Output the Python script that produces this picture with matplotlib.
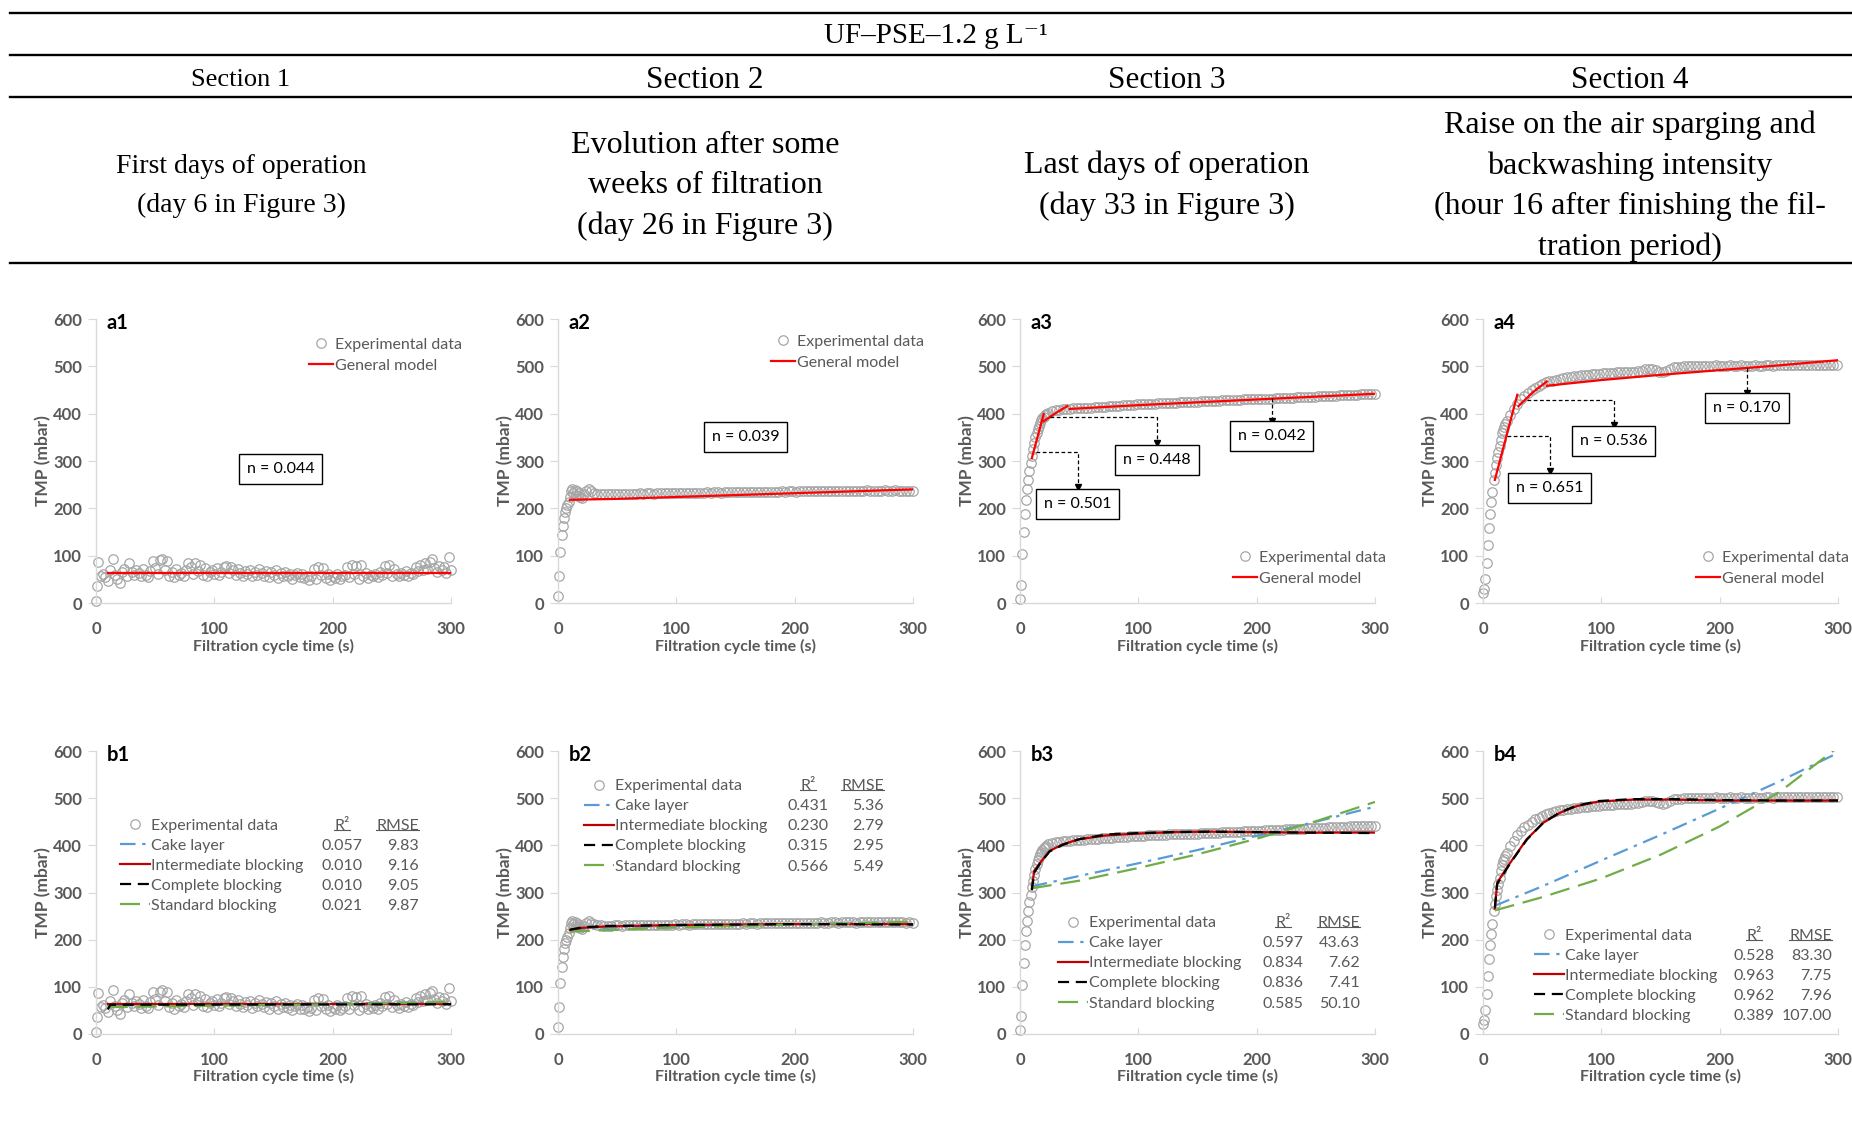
import numpy as np
import matplotlib
matplotlib.use('Agg')
import matplotlib.pyplot as plt
from matplotlib.lines import Line2D

W, H = 1852, 1124

# ---- experimental TMP data (s, mbar) ----
t1 = [0, 1] + list(range(2, 301, 2))
p1 = [4, 35,
      86, 58, 62, 55, 46, 70, 93, 60, 50, 42,
      65, 72, 58, 84, 66, 60, 70, 64, 56, 72,
      60, 55, 68, 88, 74, 62, 90, 93, 70, 89,
      58, 66, 54, 72, 60, 64, 57, 70, 84, 76,
      62, 84, 68, 80, 60, 74, 58, 66, 70, 62,
      74, 60, 66, 76, 78, 64, 76, 70, 60, 72,
      64, 58, 68, 62, 70, 56, 66, 60, 72, 64,
      58, 68, 54, 66, 60, 70, 52, 64, 58, 66,
      56, 62, 50, 60, 64, 54, 62, 52, 58, 48,
      56, 72, 50, 76, 60, 74, 52, 62, 48, 58,
      52, 62, 50, 56, 60, 76, 54, 80, 62, 78,
      50, 80, 58, 64, 52, 60, 56, 62, 54, 66,
      60, 78, 64, 80, 58, 72, 62, 56, 64, 60,
      68, 58, 64, 62, 76, 68, 80, 70, 84, 72,
      86, 92, 74, 66, 78, 70, 76, 64, 98, 70]

t2 = list(range(0, 21)) + [22, 24, 26, 28, 30] + list(range(33, 301, 3))
p2 = [15, 57, 108, 143, 163, 180, 193, 200, 206, 214, 224, 236, 240, 233, 238,
      228, 236, 226, 232, 224, 222, 230, 236, 240, 236, 233,
      231, 231, 230, 230, 230, 231, 231, 230, 231, 231,
      231, 231, 232, 231, 232, 232, 231, 232, 232, 232,
      232, 232, 233, 232, 233, 233, 232, 233, 233, 233,
      233, 234, 233, 234, 234, 233, 234, 234, 234, 234,
      234, 235, 234, 235, 235, 234, 235, 235, 235, 235,
      235, 235, 236, 235, 236, 236, 235, 236, 236, 236,
      236, 236, 236, 237, 236, 236, 237, 237, 236, 237,
      237, 237, 237, 236, 237, 237, 238, 237, 237, 237,
      237, 238, 237, 237, 238, 237, 237, 236, 237, 236]

t3 = list(range(0, 23)) + list(range(24, 301, 3))
p3 = [8, 39, 104, 151, 189, 218, 240, 260, 279, 295, 311, 325, 338, 350, 360,
      368, 375, 381, 386, 390, 394, 397, 399,
      402, 405, 407, 408, 409, 410, 410, 411, 411, 412,
      412, 413, 413, 414, 414, 415, 415, 416, 416, 417,
      417, 418, 418, 419, 419, 420, 420, 420, 421, 421,
      421, 422, 422, 422, 423, 423, 423, 424, 424, 424,
      425, 425, 425, 426, 426, 426, 427, 427, 427, 428,
      428, 428, 429, 429, 429, 430, 430, 430, 431, 431,
      431, 432, 432, 432, 433, 433, 433, 434, 434, 434,
      435, 435, 435, 436, 436, 436, 437, 437, 437, 438,
      438, 438, 439, 439, 439, 440, 440, 440, 441, 441,
      441, 442, 442]

t4 = list(range(0, 21)) + list(range(23, 301, 3))
p4 = [22, 30, 50, 85, 122, 158, 188, 213, 234, 260, 275, 292, 306, 318, 331,
      345, 359, 366, 372, 378, 384,
      398, 410, 421, 430, 438, 444, 450, 455, 459, 463,
      466, 468, 470, 472, 474, 475, 477, 478, 479, 480,
      481, 482, 482, 483, 484, 484, 485, 485, 486, 486,
      487, 487, 487, 488, 488, 489, 490, 491, 494, 495,
      494, 492, 489, 488, 490, 495, 498, 499, 499, 500,
      500, 500, 500, 501, 501, 501, 501, 501, 502, 501,
      501, 501, 502, 501, 501, 502, 501, 501, 501, 502,
      501, 501, 502, 502, 501, 502, 502, 502, 502, 502,
      502, 502, 503, 502, 502, 503, 503, 502, 503, 503,
      503, 503, 503]

exp_t = [t1, t2, t3, t4]
exp_p = [p1, p2, p3, p4]

# ---- general model segments (row a) ----
gm = [
    [([10, 300], [64, 64])],
    [([10, 50, 100, 150, 200, 250, 300], [218, 220, 224, 228, 232, 236, 240])],
    [([10, 20], [306, 399]),
     ([20, 30, 40], [384, 401, 416]),
     ([42, 100, 150, 200, 250, 300], [410, 418, 424, 430, 436, 442])],
    [([10, 29], [260, 440]),
     ([30, 42, 54], [416, 445, 468]),
     ([54, 100, 150, 200, 250, 300], [459, 471, 482, 492, 502, 513])],
]

# n values: (label, box x, box y, line x0, line y0, arrow x, arrow y)
n_boxes = [
    [('n = 0.044', 156, 283, None, None, None, None)],
    [('n = 0.039', 158.5, 350, None, None, None, None)],
    [('n = 0.501', 48.6, 210, 13.8, 320, 48.6, 246),
     ('n = 0.448', 116, 302, 25, 392, 116, 338),
     ('n = 0.042', 212.6, 352, 212.6, 433, 212.6, 385)],
    [('n = 0.651', 56.2, 243, 20, 353, 56.2, 278),
     ('n = 0.536', 110.5, 342.5, 37, 429, 110.5, 377),
     ('n = 0.170', 223, 411.5, 223, 496, 223, 444)],
]

# ---- blocking models (row b) ----
cake = [([10, 300], [61, 67]),
        ([10, 50, 100, 200, 300], [222, 226, 229, 233, 237]),
        ([10, 50, 100, 150, 200, 250, 300], [313, 335, 362, 390, 420, 450, 482]),
        ([10, 50, 100, 150, 200, 250, 300], [272, 313, 368, 422, 478, 535, 596])]
inter = [([10, 300], [63, 63]),
         ([10, 20, 40, 100, 200, 300], [220, 225, 228, 231, 233, 233]),
         ([10, 12, 17, 25, 36, 50, 73, 100, 130, 160, 200, 240, 300],
          [309, 346, 363, 388, 402, 413, 421, 425, 428, 429, 428, 427, 427]),
         ([10, 12, 23, 37, 51, 65, 79, 98, 127, 160, 200, 250, 300],
          [265, 321, 363, 413, 448, 469, 483, 493, 497, 497, 495, 495, 495])]
compl = [([10, 12, 300], [52, 62, 63]),
         ([10, 20, 40, 100, 200, 300], [221, 226, 229, 231, 233, 232]),
         ([10, 12, 17, 25, 36, 50, 73, 100, 130, 160, 200, 240, 300],
          [305, 342, 362, 387, 401, 413, 423, 426, 428, 429, 428, 427, 426]),
         ([10, 12, 23, 37, 51, 65, 79, 98, 127, 160, 200, 250, 300],
          [268, 318, 362, 412, 448, 470, 484, 494, 498, 498, 496, 495, 495])]
stand = [([10, 100, 200, 300], [57, 60, 63, 68]),
         ([10, 50, 100, 200, 300], [217, 221, 226, 232, 238]),
         ([10, 50, 100, 150, 200, 250, 300], [309, 325, 352, 381, 414, 451, 492]),
         ([10, 50, 100, 150, 200, 250, 300], [262, 290, 330, 380, 440, 512, 608])]

r2_vals = [['0.057', '0.010', '0.010', '0.021'],
           ['0.431', '0.230', '0.315', '0.566'],
           ['0.597', '0.834', '0.836', '0.585'],
           ['0.528', '0.963', '0.962', '0.389']]
rmse_vals = [['9.83', '9.16', '9.05', '9.87'],
             ['5.36', '2.79', '2.95', '5.49'],
             ['43.63', '7.62', '7.41', '50.10'],
             ['83.30', '7.75', '7.96', '107.00']]

sections = ['Section 1', 'Section 2', 'Section 3', 'Section 4']
descriptions = ['First days of operation\n(day 6 in Figure 3)',
                'Evolution after some\nweeks of filtration\n(day 26 in Figure 3)',
                'Last days of operation\n(day 33 in Figure 3)',
                'Raise on the air sparging and\nbackwashing intensity\n(hour 16 after finishing the fil-\ntration period)']
title = 'UF–PSE–1.2 g L⁻¹'

# ---- layout (pixels) ----
col_x = [96, 558, 1020, 1483]
col_c = [241, 705, 1167, 1630]
ax_w = 355
a_top, a_bot = 319, 603
b_top, b_bot = 751, 1034
leg_a = [(309, 337.5), (771, 334.5), (1233, 550.5), (1696, 550.5)]
leg_b = [(120, 818.5), (584, 779), (1058, 916), (1534, 928.5)]
tab_b = [(342, 419), (808, 884), (1283, 1360), (1754, 1832)]

GRAY = '#595959'
SANS = ['Lato', 'DejaVu Sans']
SERIF = ['Liberation Serif', 'DejaVu Serif']
EXP_C = '#A6A6A6'


def fx(px):
    return px / W


def fy(py):
    return 1 - py / H


fig = plt.figure(figsize=(W / 100, H / 100), dpi=100)
fig.patch.set_facecolor('white')

# header table
for y in [13, 55, 97, 263]:
    fig.add_artist(Line2D([fx(10), 1], [fy(y), fy(y)], color='black', lw=1.7))
fig.text(fx(936), fy(36), title, ha='center', va='center', fontsize=21, family=SERIF)
for i in range(4):
    fs_s = 19 if i == 0 else 22.5
    fs_d = 20 if i == 0 else 23
    fig.text(fx(col_c[i]), fy(80), sections[i], ha='center', va='center', fontsize=fs_s, family=SERIF)
    fig.text(fx(col_c[i]), fy(186), descriptions[i], ha='center', va='center', fontsize=fs_d,
             family=SERIF, linespacing=1.72 if i == 0 else 1.5)


def style(ax, label):
    ax.set_xlim(0, 300)
    ax.set_ylim(0, 600)
    ax.set_xticks([0, 100, 200, 300])
    ax.set_yticks(range(0, 601, 100))
    for s in ['top', 'right']:
        ax.spines[s].set_visible(False)
    for s in ['left', 'bottom']:
        ax.spines[s].set_color('#D9D9D9')
        ax.spines[s].set_linewidth(1.0)
    ax.tick_params(axis='x', direction='in', length=4, color='#D9D9D9', pad=13)
    ax.tick_params(axis='y', direction='out', length=6, color='#D9D9D9', pad=4)
    for lab in ax.get_xticklabels() + ax.get_yticklabels():
        lab.set_fontfamily(SANS)
        lab.set_fontweight('bold')
        lab.set_fontsize(12)
        lab.set_color(GRAY)
    ax.set_xlabel('Filtration cycle time (s)', fontsize=11.5, fontweight='bold', color=GRAY, family=SANS)
    ax.set_ylabel('TMP (mbar)', fontsize=12.5, fontweight='bold', color=GRAY, family=SANS)
    ax.xaxis.set_label_coords(0.5, -0.125)
    ax.yaxis.set_label_coords(-0.126, 0.5)
    ax.text(0.03, 0.985, label, transform=ax.transAxes, fontsize=14.5, fontweight='bold',
            family=SANS, ha='left', va='center')
    ax.set_facecolor('none')


def exp_plot(ax, i):
    return ax.plot(exp_t[i], exp_p[i], 'o', mfc='none', mec=EXP_C, ms=6.8, mew=0.9,
                   clip_on=False, zorder=2, label='Experimental data')[0]


b_legends = []
for i in range(4):
    # ---- row a ----
    ax = fig.add_axes([fx(col_x[i]), fy(a_bot), ax_w / W, (a_bot - a_top) / H])
    style(ax, 'a%d' % (i + 1))
    h_exp = exp_plot(ax, i)
    for k, (tt, pp) in enumerate(gm[i]):
        ln = ax.plot(tt, pp, color='#FF0000', lw=1.6, zorder=4, label='General model')[0]
        if k == 0:
            h_gm = ln
    for lab, bx, by, x0, y0, x1, y1 in n_boxes[i]:
        if x0 is not None:
            ax.plot([x0, x1, x1], [y0, y0, y1], ls=(0, (3, 2)), color='black', lw=0.9, zorder=5)
            ax.plot([x1], [y1], marker='v', color='black', ms=4.5, zorder=5)
        ax.text(bx, by, lab, ha='center', va='center', fontsize=11.5, family=SANS, zorder=6,
                bbox=dict(boxstyle='square,pad=0.5', fc='white', ec='black', lw=1))
    lx, ly = leg_a[i]
    ax.legend([h_exp, h_gm], ['Experimental data', 'General model'], loc='upper left',
              bbox_to_anchor=(fx(lx), fy(ly)), bbox_transform=fig.transFigure,
              frameon=False, borderpad=0, borderaxespad=0, handlelength=1.5,
              handletextpad=0.1, labelspacing=0.42, numpoints=1,
              prop={'family': SANS, 'size': 11.5}, labelcolor=GRAY)

    # ---- row b ----
    ax = fig.add_axes([fx(col_x[i]), fy(b_bot), ax_w / W, (b_bot - b_top) / H])
    style(ax, 'b%d' % (i + 1))
    h_exp = exp_plot(ax, i)
    h1 = ax.plot(*cake[i], color='#5B9BD5', lw=1.6, ls=(0, (7, 3, 1.5, 3)), zorder=4)[0]
    h2 = ax.plot(*inter[i], color='#C00000', lw=1.6, zorder=4)[0]
    h3 = ax.plot(*compl[i], color='black', lw=1.6, ls=(0, (5, 3)), zorder=5)[0]
    h4 = ax.plot(*stand[i], color='#70AD47', lw=1.6, ls=(0, (9, 4)), zorder=4)[0]
    lx, ly = leg_b[i]
    leg = ax.legend([h_exp, h1, h2, h3, h4],
                    ['Experimental data', 'Cake layer', 'Intermediate blocking',
                     'Complete blocking', 'Standard blocking'],
                    loc='upper left', bbox_to_anchor=(fx(lx), fy(ly)),
                    bbox_transform=fig.transFigure, frameon=False, borderpad=0,
                    borderaxespad=0, handlelength=1.85, handletextpad=0.1,
                    labelspacing=0.37, numpoints=1,
                    prop={'family': SANS, 'size': 11.5}, labelcolor=GRAY)
    b_legends.append(leg)

# R2 / RMSE columns aligned to the legend rows
fig.canvas.draw()
renderer = fig.canvas.get_renderer()
for i, leg in enumerate(b_legends):
    r2x, rmx = tab_b[i]
    ys = []
    for txt in leg.get_texts():
        bb = txt.get_window_extent(renderer)
        ys.append((bb.y0 + bb.y1) / 2 / H)
    hdr1 = fig.text(fx(r2x), ys[0], 'R²', ha='center', va='center', fontsize=11.5, family=SANS, color=GRAY)
    hdr2 = fig.text(fx(rmx), ys[0], 'RMSE', ha='right', va='center', fontsize=11.5, family=SANS, color=GRAY)
    for k in range(4):
        fig.text(fx(r2x), ys[k + 1], r2_vals[i][k], ha='center', va='center', fontsize=11.5,
                 family=SANS, color=GRAY)
        fig.text(fx(rmx), ys[k + 1], rmse_vals[i][k], ha='right', va='center', fontsize=11.5,
                 family=SANS, color=GRAY)
    for hd in [hdr1, hdr2]:
        bb = hd.get_window_extent(renderer)
        yl = (bb.y0 + 3) / H
        fig.add_artist(Line2D([bb.x0 / W, bb.x1 / W], [yl, yl], color=GRAY, lw=0.8))

fig.savefig('out.png', dpi=100, facecolor='white')
